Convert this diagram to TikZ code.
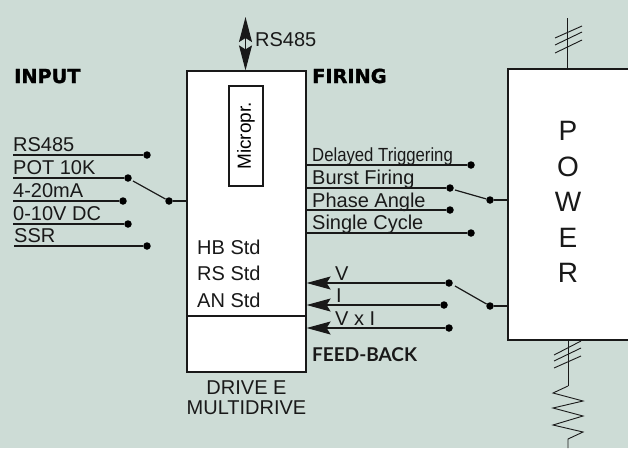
\documentclass[tikz,border=0pt]{standalone}
\usepackage{fontspec}
\usetikzlibrary{arrows.meta}
\setmainfont{Liberation Sans}
\newfontfamily\heavyfont{DejaVu Sans}[BoldFeatures={FakeBold=1.6}]
\newfontfamily\feedfont{Lato}
\definecolor{panel}{RGB}{205, 220, 214}
\definecolor{ink}{RGB}{25, 25, 25}
\tikzset{
    wire/.style={draw=ink, line width=1.2pt},
    feedwire/.style={wire, {Stealth[length=24pt,width=13pt,inset=4pt]}-},
    box/.style={draw=ink, line width=1.2pt, fill=white, inner sep=0pt},
    dot/.style={circle, fill=black, inner sep=0pt, minimum size=7.5pt},
    label/.style={anchor=base west, inner sep=0pt, text=ink, font=\fontsize{20}{20}\selectfont},
    heading/.style={anchor=base west, inner sep=0pt, text=black, font=\heavyfont\bfseries\fontsize{19.3}{20}\selectfont},
}
\begin{document}
\begin{tikzpicture}[x=1pt, y=-1pt]
            \fill[panel] (0,0) rectangle (628,448);
            \useasboundingbox (0,0) rectangle (628,448);
            % blocks
            \node[box, minimum width=119pt, minimum height=301pt] (drive)  at (246.5,221.5) {};
            \node[box, minimum width=34pt,  minimum height=100pt] (micro)  at (246,136)
                 {\rotatebox{90}{\fontsize{19}{19}\selectfont Micropr.}};
            \node[box, minimum width=122pt, minimum height=271pt] (power)  at (569,204.5) {};
            \node[align=center, inner sep=0pt, text=ink, font=\fontsize{28}{35.4}\selectfont] (powertext) at (568,202) {P\\O\\W\\E\\R};
            \coordinate (splitw) at (187,316);
            \coordinate (splite) at (306,316);
            \draw[wire] (splitw) -- (splite);
            % headings
            \node[heading] (inputhead)  at (14,83)   {INPUT};
            \node[heading] (firinghead) at (312,83)  {FIRING};
            \node[anchor=base west, inner sep=0pt, text=ink, font=\feedfont\bfseries\fontsize{19}{20}\selectfont] (feedhead) at (312,361) {FEED-BACK};
            \node[label] (topbus) at (255,46) {RS485};
            \node[anchor=base, align=center, inner sep=0pt, text=ink, font=\fontsize{20}{20}\selectfont] (drivetext) at (246.5,414) {DRIVE E\\MULTIDRIVE};
            \node[label] (hbstd) at (197,254) {HB Std};
            \node[label] (rsstd) at (197,280) {RS Std};
            \node[label] (anstd) at (197,307) {AN Std};
            % input side
            \node[label] (inrs)  at (13,151.5) {RS485};
            \node[label] (inpot) at (13,174.5) {POT 10K};
            \node[label] (inma)  at (13,197.5) {4-20mA};
            \node[label] (indc)  at (13,220.5) {0-10V DC};
            \node[label] (inssr) at (14,242)   {SSR};
            \coordinate (wirers)  at (13,155);
            \coordinate (wirepot) at (13,178);
            \coordinate (wirema)  at (13,201);
            \coordinate (wiredc)  at (13,224);
            \coordinate (wiressr) at (14,246);
            \node[dot] (dotrs)  at (147,155) {};
            \node[dot] (dotpot) at (128,178) {};
            \node[dot] (dotma)  at (123,201) {};
            \node[dot] (dotdc)  at (128,224) {};
            \node[dot] (dotssr) at (147,246) {};
            \node[dot] (inpole) at (169,201) {};
            \coordinate (inthrow) at (133,181);
            \draw[wire] (wirers)  -- (dotrs);
            \draw[wire] (wirepot) -- (dotpot);
            \draw[wire] (wirema)  -- (dotma);
            \draw[wire] (wiredc)  -- (dotdc);
            \draw[wire] (wiressr) -- (dotssr);
            \draw[wire] (inthrow) -- (inpole);
            \draw[wire] (inpole)  -- (drive.west |- inpole);
            % firing side
            \node[anchor=base west, inner sep=0pt, text=ink, font=\fontsize{19}{20}\selectfont] (fdelay) at (312,161) {\scalebox{.88}[1]{Delayed Triggering}};
            \node[label] (fburst)  at (312,184)   {Burst Firing};
            \node[label] (fphase)  at (312,207)   {Phase Angle};
            \node[label] (fsingle) at (312,229.5) {Single Cycle};
            \node[dot] (dotdelay)  at (471,165) {};
            \node[dot] (dotburst)  at (450,188) {};
            \node[dot] (dotphase)  at (450,210) {};
            \node[dot] (dotsingle) at (471,233) {};
            \node[dot] (firepole)  at (490,200) {};
            \coordinate (firethrow) at (455,190);
            \draw[wire] (drive.east |- dotdelay)  -- (dotdelay);
            \draw[wire] (drive.east |- dotburst)  -- (dotburst);
            \draw[wire] (drive.east |- dotphase)  -- (dotphase);
            \draw[wire] (drive.east |- dotsingle) -- (dotsingle);
            \draw[wire] (firethrow) -- (firepole);
            \draw[wire] (firepole)  -- (power.west |- firepole);
            % feed-back side
            \node[label] (fbv)  at (335,280) {V};
            \node[label] (fbi)  at (336,302) {I};
            \node[label] (fbvi) at (335,325) {V x I};
            \node[dot] (dotv)  at (449,283) {};
            \node[dot] (doti)  at (444,305) {};
            \node[dot] (dotvi) at (449,328) {};
            \node[dot] (fbpole) at (490,306) {};
            \coordinate (fbthrow) at (455,286);
            \draw[feedwire] (drive.east |- dotv)  -- (dotv);
            \draw[feedwire] (drive.east |- doti)  -- (doti);
            \draw[feedwire] (drive.east |- dotvi) -- (dotvi);
            \draw[wire] (fbthrow) -- (fbpole);
            \draw[wire] (fbpole)  -- (power.west |- fbpole);
            % RS485 bus
            \coordinate (busend) at (245.5,17);
            \coordinate (busmid) at (245.5,43);
            \draw[wire, -{Stealth[length=25pt,width=13pt,inset=4pt]}] (busmid) -- (busend);
            \draw[wire, -{Stealth[length=25pt,width=13pt,inset=4pt]}] (busmid) -- (drive.north -| busmid);
            % mains and load
            \coordinate (mainstop) at (567,18);
            \coordinate (loadtop)  at (568,386);
            \coordinate (loadend)  at (568,448);
            \draw[wire, line width=.9pt] (mainstop) -- (mainstop |- power.north);
            \draw[wire, line width=.9pt] (555,38) -- (582,26) (555,45) -- (582,32) (555,53) -- (582,40);
            \draw[wire, line width=.9pt] (loadtop |- power.south) -- (loadtop);
            \draw[wire, line width=.9pt] (554,355) -- (581,341) (554,361) -- (581,348) (554,368) -- (581,356);
            \draw[wire, line width=.9pt] (loadtop) -- (553,393) -- (583,401) -- (553,408) -- (583,416) -- (553,425) -- (583,432) -- (568,439) -- (loadend);
\end{tikzpicture}
\end{document}
